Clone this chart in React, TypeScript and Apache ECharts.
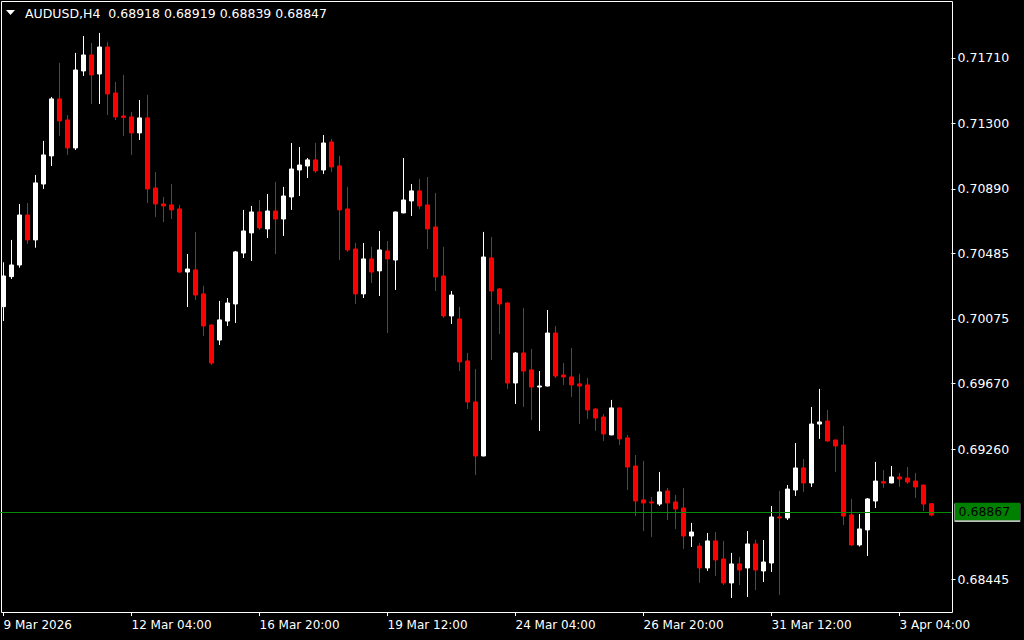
import React, { useEffect, useRef } from 'react';
import * as echarts from 'echarts';

const symbol = 'AUDUSD,H4';
const firstBarTime = '2026-03-09T12:00:00Z';
const barHours = 4;
const emptySlots = 2;

const opens = [
  0.70152, 0.70340, 0.70413, 0.70726, 0.70570, 0.70920, 0.71096, 0.71453, 0.71321, 0.71146,
  0.71628, 0.71728, 0.71609, 0.71778, 0.71490, 0.71346, 0.71340, 0.71240, 0.71334, 0.70895,
  0.70795, 0.70789, 0.70764, 0.70369, 0.70382, 0.70232, 0.70037, 0.69943, 0.70062, 0.70169,
  0.70488, 0.70614, 0.70745, 0.70639, 0.70751, 0.70701, 0.70839, 0.71008, 0.71033, 0.71071,
  0.71008, 0.71183, 0.71033, 0.70764, 0.70513, 0.70232, 0.70451, 0.70376, 0.70501, 0.70444,
  0.70739, 0.70814, 0.70877, 0.70789, 0.70651, 0.70344, 0.70094, 0.70075, 0.69812, 0.69555,
  0.69217, 0.70457, 0.70263, 0.70175, 0.69674, 0.69862, 0.69756, 0.69649, 0.69655, 0.69987,
  0.69724, 0.69712, 0.69668, 0.69662, 0.69511, 0.69461, 0.69349, 0.69518, 0.69330, 0.69154,
  0.68942, 0.68929, 0.68916, 0.68998, 0.68929, 0.68891, 0.68716, 0.68653, 0.68516, 0.68685,
  0.68572, 0.68422, 0.68541, 0.68516, 0.68666, 0.68497, 0.68547, 0.68835, 0.68829, 0.69004,
  0.69142, 0.69048, 0.69417, 0.69436, 0.69317, 0.69286, 0.68848, 0.68660, 0.68754, 0.68935,
  0.69056, 0.69048, 0.69086, 0.69079, 0.69060, 0.69035, 0.68918,
];
const closes = [
  0.70344, 0.70413, 0.70726, 0.70570, 0.70927, 0.71102, 0.71453, 0.71315, 0.71146, 0.71634,
  0.71728, 0.71603, 0.71778, 0.71484, 0.71340, 0.71337, 0.71240, 0.71334, 0.70889, 0.70795,
  0.70783, 0.70758, 0.70369, 0.70388, 0.70225, 0.70031, 0.69799, 0.70069, 0.70175, 0.70495,
  0.70626, 0.70745, 0.70645, 0.70751, 0.70701, 0.70845, 0.71014, 0.71039, 0.71071, 0.71002,
  0.71177, 0.71027, 0.70758, 0.70507, 0.70232, 0.70451, 0.70369, 0.70507, 0.70451, 0.70745,
  0.70820, 0.70877, 0.70783, 0.70639, 0.70338, 0.70094, 0.70225, 0.69806, 0.69555, 0.69217,
  0.70463, 0.70250, 0.70169, 0.69674, 0.69862, 0.69749, 0.69649, 0.69655, 0.69987, 0.69718,
  0.69712, 0.69662, 0.69655, 0.69505, 0.69455, 0.69355, 0.69518, 0.69324, 0.69148, 0.68935,
  0.68923, 0.68923, 0.68992, 0.68923, 0.68885, 0.68716, 0.68741, 0.68516, 0.68685, 0.68566,
  0.68422, 0.68541, 0.68503, 0.68666, 0.68503, 0.68553, 0.68835, 0.68829, 0.69010, 0.69142,
  0.69048, 0.69417, 0.69430, 0.69311, 0.69280, 0.68841, 0.68660, 0.68760, 0.68948, 0.69060,
  0.69048, 0.69086, 0.69073, 0.69054, 0.69023, 0.68916, 0.68847,
];
const lows = [
  0.70062, 0.70325, 0.70396, 0.70545, 0.70521, 0.70889, 0.71033, 0.71221, 0.71102, 0.71133,
  0.71597, 0.71421, 0.71421, 0.71352, 0.71321, 0.71221, 0.71102, 0.71196, 0.70801, 0.70714,
  0.70682, 0.70701, 0.70363, 0.70150, 0.70194, 0.69969, 0.69787, 0.69912, 0.70031, 0.70050,
  0.70457, 0.70438, 0.70632, 0.70582, 0.70482, 0.70595, 0.70758, 0.70845, 0.70958, 0.70989,
  0.70983, 0.70996, 0.70444, 0.70495, 0.70169, 0.70206, 0.70300, 0.70219, 0.69987, 0.70257,
  0.70737, 0.70720, 0.70764, 0.70513, 0.70250, 0.70081, 0.70044, 0.69749, 0.69511, 0.69098,
  0.69215, 0.69818, 0.69981, 0.69637, 0.69543, 0.69524, 0.69443, 0.69374, 0.69653, 0.69705,
  0.69662, 0.69587, 0.69417, 0.69449, 0.69374, 0.69311, 0.69347, 0.69286, 0.69004, 0.68841,
  0.68747, 0.68710, 0.68904, 0.68816, 0.68760, 0.68635, 0.68647, 0.68422, 0.68497, 0.68466,
  0.68409, 0.68328, 0.68409, 0.68334, 0.68378, 0.68428, 0.68491, 0.68347, 0.68816, 0.68967,
  0.68992, 0.69023, 0.69324, 0.69305, 0.69117, 0.68785, 0.68653, 0.68650, 0.68591, 0.68891,
  0.69017, 0.69046, 0.69023, 0.69042, 0.68954, 0.68873, 0.68839,
];
const highs = [
  0.70430, 0.70570, 0.70795, 0.70801, 0.70977, 0.71190, 0.71465, 0.71678, 0.71352, 0.71741,
  0.71847, 0.71803, 0.71866, 0.71810, 0.71559, 0.71603, 0.71371, 0.71446, 0.71478, 0.70995,
  0.70839, 0.70920, 0.70789, 0.70482, 0.70620, 0.70282, 0.70044, 0.70188, 0.70206, 0.70501,
  0.70758, 0.70783, 0.70820, 0.70858, 0.70933, 0.70902, 0.71177, 0.71152, 0.71083, 0.71177,
  0.71227, 0.71202, 0.71096, 0.70902, 0.70551, 0.70551, 0.70526, 0.70626, 0.70563, 0.70747,
  0.71083, 0.70920, 0.70952, 0.70964, 0.70864, 0.70526, 0.70250, 0.70150, 0.69862, 0.69762,
  0.70620, 0.70588, 0.70269, 0.70181, 0.69868, 0.70144, 0.69887, 0.69749, 0.70131, 0.70031,
  0.69799, 0.69893, 0.69731, 0.69705, 0.69518, 0.69480, 0.69568, 0.69520, 0.69349, 0.69223,
  0.69186, 0.68960, 0.69117, 0.69017, 0.68973, 0.69017, 0.68798, 0.68672, 0.68735, 0.68741,
  0.68685, 0.68610, 0.68585, 0.68747, 0.68691, 0.68691, 0.68904, 0.68998, 0.69035, 0.69298,
  0.69198, 0.69524, 0.69637, 0.69505, 0.69319, 0.69405, 0.68948, 0.68854, 0.68954, 0.69180,
  0.69129, 0.69154, 0.69111, 0.69148, 0.69111, 0.69037, 0.68919,
];

const yTickValues = [0.7171, 0.713, 0.7089, 0.70485, 0.70075, 0.6967, 0.6926, 0.68445];
const xTickLabels = ['9 Mar 2026', '12 Mar 04:00', '16 Mar 20:00', '19 Mar 12:00', '24 Mar 04:00', '26 Mar 20:00', '31 Mar 12:00', '3 Apr 04:00'];
const xTickEvery = 16;
const currentPrice = 0.68867;
const yMin = 0.6824;
const yMax = 0.72066;

const FONT = '"DejaVu Sans", "Noto Sans", sans-serif';

function buildCategories(n: number): string[] {
  const out: string[] = [];
  let t = Date.parse(firstBarTime);
  while (out.length < n) {
    const d = new Date(t);
    const wd = d.getUTCDay();
    if (wd !== 0 && wd !== 6) out.push(d.toISOString().slice(0, 16).replace('T', ' '));
    t += barHours * 3600 * 1000;
  }
  return out;
}

export default function App() {
  const ref = useRef<HTMLDivElement>(null);
  useEffect(() => {
    document.body.style.margin = '0';
    document.body.style.background = '#000';
    if (!ref.current) return;
    const chart = echarts.init(ref.current, undefined, { renderer: 'svg' });
    const categories = buildCategories(opens.length + emptySlots);
    const data = opens.map((o, i) => [o, closes[i], lows[i], highs[i]]);
    const n = opens.length - 1;
    const header = `${symbol}  ${opens[n].toFixed(5)} ${highs[n].toFixed(5)} ${lows[n].toFixed(5)} ${closes[n].toFixed(5)}`;
    const showTick = (i: number) => i % xTickEvery === 0;
    chart.setOption({
      animation: false,
      backgroundColor: '#000',
      grid: { left: -0.5, top: 1, width: 952, height: 611, outerBoundsMode: 'none', containLabel: false },
      xAxis: {
        type: 'category',
        data: categories,
        boundaryGap: true,
        axisLine: { show: false },
        axisTick: { show: true, alignWithLabel: true, interval: showTick, length: 4, lineStyle: { color: '#fff', width: 1 } },
        axisLabel: {
          show: true,
          interval: showTick,
          hideOverlap: false,
          formatter: (_v: string, i: number) => xTickLabels[i / xTickEvery] ?? '',
          color: '#fff',
          align: 'left',
          margin: 7,
          fontFamily: FONT,
          fontSize: 12,
        },
        splitLine: { show: false },
      },
      yAxis: {
        type: 'value',
        position: 'right',
        min: yMin,
        max: yMax,
        axisLine: { show: false },
        axisTick: { show: true, customValues: yTickValues, length: 4, lineStyle: { color: '#fff', width: 1 } },
        axisLabel: {
          show: true,
          customValues: yTickValues,
          formatter: (v: number) => v.toFixed(5),
          color: '#fff',
          margin: 6,
          fontFamily: FONT,
          fontSize: 12.5,
        },
        splitLine: { show: false },
      },
      series: [
        {
          type: 'candlestick',
          data,
          barWidth: 4,
          itemStyle: {
            color: '#ffffff',
            color0: '#ff0000',
            borderColor: '#ffffff',
            borderColor0: '#ff0000',
            borderWidth: 1,
          },
        },
        {
          type: 'line',
          data: [],
          silent: true,
          markLine: {
            symbol: 'none',
            silent: true,
            animation: false,
            precision: 5,
            lineStyle: { color: '#0a8a0a', width: 1, type: 'solid' },
            label: {
              show: true,
              position: 'end',
              formatter: () => currentPrice.toFixed(5),
              color: '#000',
              backgroundColor: '#008000',
              padding: [3, 10, 2, 4],
              distance: 3,
              fontFamily: FONT,
              fontSize: 12.5,
              shadowColor: '#ffffff',
              shadowOffsetY: 1,
              shadowBlur: 0,
            },
            emphasis: { disabled: true },
            data: [{ yAxis: currentPrice }],
          },
        },
      ],
      graphic: [
        {
          type: 'rect',
          silent: true,
          shape: { x: 1.5, y: 1.5, width: 951, height: 611 },
          style: { fill: 'none', stroke: '#ffffff', lineWidth: 1 },
        },
        {
          type: 'polygon',
          silent: true,
          shape: { points: [[6, 10], [15, 10], [10.5, 15]] },
          style: { fill: '#ffffff' },
        },
        {
          type: 'text',
          silent: true,
          x: 25,
          y: 13,
          style: { text: header, fill: '#ffffff', fontFamily: FONT, fontSize: 12.5, verticalAlign: 'middle' },
        },
      ],
    });
    return () => chart.dispose();
  }, []);
  return <div ref={ref} style={{ width: 1024, height: 640 }} />;
}
